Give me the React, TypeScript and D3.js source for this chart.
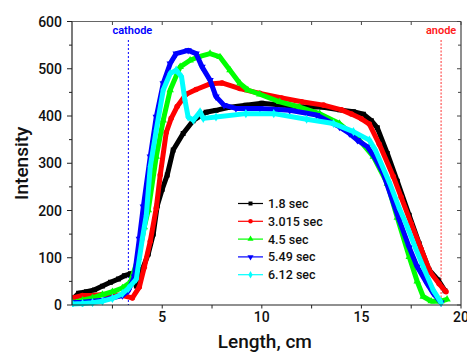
import React from 'react';
import * as d3 from 'd3';

// values (x in cm, intensity)
const s18x = [0.5, 0.8, 1.2, 1.6, 2.0, 2.4, 2.8, 3.1, 3.4, 3.7, 4.0, 4.3, 4.55, 4.75, 5.0, 5.25, 5.55, 6.05, 6.55, 7.2, 7.7, 8.3, 9.2, 10.0, 11.0, 12.0, 13.0, 13.9, 14.6, 15.1, 15.5, 15.8, 16.3, 16.8, 17.4, 17.9, 18.4, 18.85, 19.2];
const s18y = [12, 25, 28, 32, 40, 48, 55, 62, 66, 40, 75, 108, 150, 210, 245, 275, 328, 363, 390, 408, 412, 418, 423, 427, 423, 419, 419, 413, 409, 404, 390, 375, 321, 262, 190, 130, 74, 53, 30];

const s3x = [0.5, 1.0, 1.5, 2.0, 2.5, 3.0, 3.5, 3.85, 4.1, 4.4, 4.7, 4.9, 5.2, 5.45, 5.75, 6.2, 6.7, 7.4, 8.0, 8.9, 9.9, 11.0, 12.0, 13.1, 14.0, 14.5, 15.0, 15.4, 15.9, 16.6, 17.0, 17.5, 18.0, 18.45, 18.9, 19.25];
const s3y = [15, 20, 20, 22, 22, 20, 15, 38, 80, 135, 205, 275, 365, 395, 420, 446, 456, 468, 470, 458, 448, 438, 430, 423, 413, 404, 394, 383, 340, 272, 228, 172, 118, 70, 45, 28];

const s45x = [0.5, 1.0, 1.5, 2.0, 2.5, 3.0, 3.4, 3.8, 4.1, 4.3, 4.7, 5.05, 5.4, 5.9, 6.4, 6.8, 7.4, 7.9, 8.4, 8.9, 9.3, 9.9, 10.9, 11.9, 12.9, 13.9, 14.9, 15.6, 16.3, 16.8, 17.4, 17.8, 18.1, 18.5, 19.0, 19.3];
const s45y = [5, 10, 15, 22, 28, 36, 48, 100, 165, 201, 314, 391, 455, 504, 518, 525, 532, 525, 497, 469, 455, 446, 430, 419, 405, 384, 349, 314, 257, 185, 102, 50, 18, 8, 8, 12];

const s549x = [0.5, 1.0, 1.5, 2.0, 2.5, 3.0, 3.3, 3.6, 3.85, 4.05, 4.4, 4.7, 5.05, 5.4, 5.7, 6.3, 6.7, 7.0, 7.4, 7.7, 8.1, 8.7, 9.9, 11.4, 12.75, 13.9, 14.4, 14.8, 15.3, 15.7, 16.1, 16.9, 17.4, 17.8, 18.3, 18.6, 19.0];
const s549y = [5, 6, 8, 10, 15, 20, 30, 60, 140, 208, 314, 398, 469, 511, 532, 539, 532, 504, 476, 441, 423, 416, 416, 412, 402, 377, 363, 349, 335, 310, 278, 180, 122, 81, 45, 25, 5];

const s612x = [0.5, 1.0, 1.5, 2.0, 2.5, 3.0, 3.3, 3.7, 4.0, 4.2, 4.4, 4.7, 5.05, 5.4, 5.7, 5.97, 6.14, 6.3, 6.56, 6.9, 7.06, 7.7, 9.2, 10.6, 12.25, 13.6, 14.6, 15.4, 15.7, 16.4, 16.9, 17.3, 17.7, 18.1, 18.6, 19.0];
const s612y = [2, 3, 5, 8, 14, 24, 35, 55, 140, 190, 293, 370, 455, 490, 497, 483, 434, 398, 391, 409, 395, 398, 405, 405, 393, 384, 367, 349, 328, 260, 205, 166, 122, 81, 32, 5];

const seriesNames = ['1.8 sec', '3.015 sec', '4.5 sec', '5.49 sec', '6.12 sec'];
const seriesColors = ['#000000', '#ff0000', '#00ff00', '#0000ff', '#00ffff'];
const seriesX = [s18x, s3x, s45x, s549x, s612x];
const seriesY = [s18y, s3y, s45y, s549y, s612y];

const xTicks = [5, 10, 15, 20];
const xMinor = [2.5, 5, 7.5, 10, 12.5, 15, 17.5, 20];
const yTicks = [0, 100, 200, 300, 400, 500, 600];
const yMinor = [50, 150, 250, 350, 450, 550];

const cathodeX = 3.3;
const anodeX = 19.0;

const W = 467;
const H = 354;
const L = 72, R = 461, T = 21.5, B = 305;

const font = 'Roboto, "DejaVu Sans", sans-serif';

const symbolTypes = [d3.symbolSquare, d3.symbolCircle, d3.symbolTriangle, d3.symbolTriangle, d3.symbolDiamond];

export default function App() {
  const x = d3.scaleLinear().domain([0.47, 20]).range([L, R]);
  const y = d3.scaleLinear().domain([0, 600]).range([B, T]);

  const line = d3.line<[number, number]>()
    .x(d => x(d[0]))
    .y(d => y(d[1]));

  const sym = (i: number, size: number) => d3.symbol().type(symbolTypes[i]).size(size)() || '';

  return (
    <svg width={W} height={H} style={{ position: 'absolute', left: 0, top: 0 }} fontFamily={font}>
      <rect width={W} height={H} fill="#fff" />
      <defs>
        <clipPath id="plot"><rect x={L} y={T} width={R - L} height={B - T + 2} /></clipPath>
      </defs>

      {/* cathode / anode markers */}
      <line x1={x(cathodeX)} x2={x(cathodeX)} y1={40} y2={B} stroke="#0000ff" strokeWidth={1} strokeDasharray="2,2" />
      <text x={x(cathodeX) + 4} y={34} fill="#0000ff" fontSize={11} fontWeight={600} textAnchor="middle">cathode</text>
      <line x1={x(anodeX)} x2={x(anodeX)} y1={40} y2={B} stroke="#ff3333" strokeWidth={1} strokeDasharray="2,1.5" />
      <text x={x(anodeX)} y={34} fill="#ff2020" fontSize={11} fontWeight={600} textAnchor="middle">anode</text>

      <g clipPath="url(#plot)">
        {seriesX.map((xs, i) => {
          const pts = xs.map((v, j) => [v, seriesY[i][j]] as [number, number]);
          return (
            <g key={i}>
              <path d={line(pts) || ''} fill="none" stroke={seriesColors[i]} strokeWidth={5} strokeLinejoin="round" />
              {pts.map((p, j) => (
                <path key={j} d={sym(i, 24)} fill={seriesColors[i]}
                  transform={`translate(${x(p[0])},${y(p[1])})${i === 3 ? ' rotate(180)' : ''}`} />
              ))}
            </g>
          );
        })}
      </g>

      {/* frame */}
      <line x1={L} x2={R} y1={T} y2={T} stroke="#666" strokeWidth={1.2} />
      <line x1={R} x2={R} y1={T} y2={B} stroke="#444" strokeWidth={1.2} />
      <line x1={L} x2={L} y1={T} y2={B} stroke="#222" strokeWidth={1.2} />
      <line x1={L} x2={R} y1={B} y2={B} stroke="#222" strokeWidth={1.2} />

      {/* x ticks */}
      {xMinor.map(t => (
        <g key={'xm' + t}>
          <line x1={x(t)} x2={x(t)} y1={B} y2={B + 3.5} stroke="#222" />
          <line x1={x(t)} x2={x(t)} y1={T} y2={T + 3.5} stroke="#444" />
        </g>
      ))}
      {xTicks.map(t => (
        <text key={'xt' + t} x={x(t)} y={322} fontSize={14} fontWeight={500} textAnchor="middle" fill="#111">{t}</text>
      ))}

      {/* y ticks */}
      {yTicks.map(t => (
        <g key={'yt' + t}>
          <line x1={L - 5} x2={L} y1={y(t)} y2={y(t)} stroke="#222" />
          <line x1={R - 4} x2={R} y1={y(t)} y2={y(t)} stroke="#444" />
          <text x={62} y={y(t) + 5} fontSize={14} fontWeight={500} textAnchor="end" fill="#111">{t}</text>
        </g>
      ))}
      {yMinor.map(t => (
        <g key={'ym' + t}>
          <line x1={L - 3} x2={L} y1={y(t)} y2={y(t)} stroke="#222" />
          <line x1={R - 3} x2={R} y1={y(t)} y2={y(t)} stroke="#444" />
        </g>
      ))}

      {/* axis titles */}
      <text transform={`translate(28,${(T + B) / 2}) rotate(-90)`} fontSize={19} fontWeight={500} textAnchor="middle" fill="#111">Intensity</text>
      <text x={x(10.15)} y={348} fontSize={19} fontWeight={500} textAnchor="middle" fill="#111">Length, cm</text>

      {/* legend */}
      {seriesNames.map((n, i) => {
        const ly = 203.5 + i * 17.8;
        return (
          <g key={n}>
            <line x1={238} x2={263} y1={ly} y2={ly} stroke={seriesColors[i]} strokeWidth={1.2} />
            <path d={sym(i, 16)} fill={seriesColors[i]} transform={`translate(250.5,${ly})${i === 3 ? ' rotate(180)' : ''}`} />
            <text x={268} y={ly + 4.5} fontSize={12.5} fontWeight={500} fill="#111">{n}</text>
          </g>
        );
      })}
    </svg>
  );
}
